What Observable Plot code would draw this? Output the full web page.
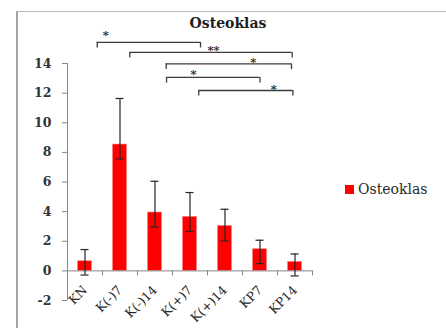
<!DOCTYPE html>
<html><head><meta charset="utf-8">
<script src="https://cdn.jsdelivr.net/npm/d3@7"></script>
<script src="https://cdn.jsdelivr.net/npm/@observablehq/plot@0.6"></script>
<style>
html,body{margin:0;padding:0;background:#fff;}
#wrap{position:relative;width:446px;height:328px;overflow:hidden;font-family:"DejaVu Serif",serif;}
#frame{position:absolute;left:16px;top:11px;width:600px;height:600px;border-left:2px solid #a3a3a3;border-top:1px solid #bcbcbc;}
#chart{position:absolute;left:0;top:0;}
#title{position:absolute;top:15px;left:0;width:456px;text-align:center;font-weight:bold;font-size:14px;color:#1e1e1e;line-height:16px;}
#legend{position:absolute;left:345px;top:181px;font-size:14px;color:#2a2a2a;line-height:16px;display:flex;align-items:center;}
#legend .sw{width:9px;height:9px;background:#ff0000;margin-right:4px;}
</style></head>
<body>
<div id="wrap">
  <div id="frame"></div>
  <div id="chart"></div>
  <div id="title">Osteoklas</div>
  <div id="legend"></div>
</div>
<script>
const categories = ["KN", "K(-)7", "K(-)14", "K(+)7", "K(+)14", "KP7", "KP14"];
const values = [0.65, 8.53, 3.94, 3.64, 3.03, 1.46, 0.6];
const errLow = [-0.28, 7.56, 2.97, 2.66, 2.02, 0.49, -0.34];
const errHigh = [1.44, 11.64, 6.05, 5.29, 4.16, 2.07, 1.14];
const seriesName = "Osteoklas";
const yTicks = [-2, 0, 2, 4, 6, 8, 10, 12, 14];

// significance brackets (positions in category-index units)
const bracketStart = [0.35, 1.28, 2.32, 2.33, 3.25];
const bracketEnd = [3.3, 5.92, 5.9, 5.0, 5.94];
const bracketLevel = [15.43, 14.75, 13.97, 13.06, 12.18];
const bracketMark = ["*", "**", "*", "*", "*"];
const markX = [0.59, 3.67, 4.81, 3.1, 5.39];
const markY = [15.63, 14.61, 13.8, 13.01, 12.04];

const bars = categories.map((c, i) => ({i, c, v: values[i], lo: errLow[i], hi: errHigh[i]}));
const brackets = bracketStart.map((s, k) => ({s, e: bracketEnd[k], y: bracketLevel[k], m: bracketMark[k], mx: markX[k], my: markY[k]}));
const legs = brackets.flatMap(b => [{x: b.s, y: b.y}, {x: b.e, y: b.y}]);
const boundaries = categories.map((_, i) => i + 0.5);

const legY = 0.38;
const axisColor = "#868686";

const plot = Plot.plot({
  width: 446,
  height: 328,
  marginLeft: 67,
  marginRight: 134,
  marginTop: 26,
  marginBottom: 28,
  style: {fontFamily: "DejaVu Serif, serif", color: "#2a2a2a", background: "transparent", overflow: "visible"},
  x: {type: "linear", domain: [-0.5, categories.length - 0.5], axis: null},
  y: {domain: [-2, 16.5], axis: null},
  marks: [
    // bars
    Plot.rectY(bars, {x1: "i", x2: "i", y1: 0, y2: "v", fill: "#ff0000", stroke: "#ff8080", strokeWidth: 0.6, insetLeft: -7, insetRight: -7}),
    // y axis
    Plot.ruleX([-0.5], {y1: -2, y2: 14, stroke: axisColor, strokeWidth: 1}),
    Plot.axisY({ticks: yTicks, tickFormat: d => String(d), tickSize: 5, tickPadding: 11, stroke: axisColor, fontSize: 12.5, fontWeight: "bold", fill: "#333", label: null}),
    // x axis line and boundary ticks
    Plot.ruleY([0], {x1: -0.5, x2: categories.length - 0.5, stroke: axisColor, strokeWidth: 1}),
    Plot.ruleX(boundaries, {y1: 0, y2: 0, insetBottom: -5, stroke: axisColor}),
    // category labels
    Plot.text(bars, {x: "i", y: 0, text: "c", rotate: -45, textAnchor: "end", lineAnchor: "bottom", dx: 3, dy: 20, fontSize: 12.5, fill: "#262626"}),
    // error bars
    Plot.ruleX(bars, {x: "i", y1: "lo", y2: "hi", stroke: "#262626", strokeWidth: 1.2}),
    Plot.ruleY(bars, {x1: "i", x2: "i", y: "lo", insetLeft: -4, insetRight: -4, stroke: "#262626", strokeWidth: 1.2}),
    Plot.ruleY(bars, {x1: "i", x2: "i", y: "hi", insetLeft: -4, insetRight: -4, stroke: "#262626", strokeWidth: 1.2}),
    // brackets
    Plot.ruleY(brackets, {x1: "s", x2: "e", y: "y", stroke: "#3c3c3c", strokeWidth: 1.3}),
    Plot.ruleX(legs, {x: "x", y1: d => d.y - legY, y2: "y", stroke: "#3c3c3c", strokeWidth: 1.3}),
    Plot.text(brackets, {x: "mx", y: "my", text: "m", lineAnchor: "bottom", fontSize: 11.5, fill: "#222", fontWeight: "bold"})
  ]
});
document.getElementById("chart").appendChild(plot);

const leg = document.getElementById("legend");
leg.innerHTML = `<span class="sw"></span><span>${seriesName}</span>`;
</script>
</body></html>
